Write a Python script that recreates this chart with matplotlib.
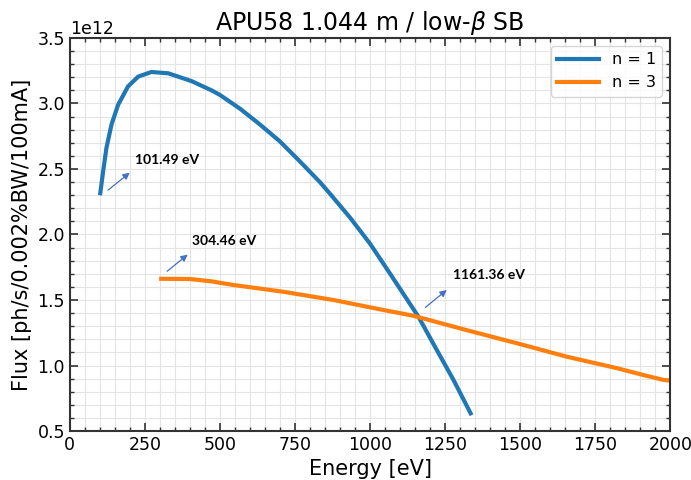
"""
APU58 flux curves, n = 1 and n = 3 harmonics
"""
import matplotlib.pyplot as plt
from matplotlib.ticker import MultipleLocator

# n = 1 harmonic (energy in eV, flux in units of 1e12)
energy_n1 = [101.5, 111, 122, 139, 161, 194, 228, 272, 328, 406, 472, 500, 567,
             633, 700, 767, 833, 867, 933, 1000, 1067, 1161, 1222, 1278, 1335]
flux_n1 = [2.315, 2.48, 2.66, 2.84, 2.99, 3.13, 3.205, 3.24, 3.23, 3.17, 3.10,
           3.065, 2.96, 2.84, 2.71, 2.556, 2.40, 2.31, 2.13, 1.93, 1.70, 1.373,
           1.12, 0.89, 0.635]

# n = 3 harmonic
energy_n3 = [304.5, 400, 470, 544, 711, 878, 1044, 1144, 1322, 1489, 1656, 1822,
             1911, 1978, 2000]
flux_n3 = [1.662, 1.66, 1.643, 1.615, 1.563, 1.50, 1.424, 1.38, 1.27, 1.17, 1.067,
           0.98, 0.927, 0.89, 0.885]

# annotations: label, arrow tail, arrow head, text position (energy, flux/1e12)
notes = [
    ("101.49 eV", (120, 2.325), (207, 2.485), (217, 2.57)),
    ("304.46 eV", (317, 1.706), (400, 1.86), (407, 1.95)),
    ("1161.36 eV", (1177, 1.43), (1263, 1.59), (1277, 1.69)),
]

fig = plt.figure(figsize=(6.91, 4.8), dpi=100)
ax = fig.add_axes([0.101, 0.102, 0.869, 0.819])

scale = 1e12
ax.plot(energy_n1, [f * scale for f in flux_n1], color="#1f77b4", lw=3,
        label="n = 1", solid_joinstyle="round")
ax.plot(energy_n3, [f * scale for f in flux_n3], color="#ff7f0e", lw=3,
        label="n = 3", solid_joinstyle="round")

for label, tail, head, txt in notes:
    ax.annotate("", xy=(head[0], head[1] * scale), xytext=(tail[0], tail[1] * scale),
                arrowprops=dict(arrowstyle="-|>", color="#4472c4", lw=0.9,
                                mutation_scale=10))
    ax.text(txt[0], txt[1] * scale, label, fontsize=10, fontweight="bold",
            family=["Lato", "DejaVu Sans"], va="center", ha="left")

ax.set_xlim(0, 2000)
ax.set_ylim(0.5e12, 3.5e12)
ax.xaxis.set_major_locator(MultipleLocator(250))
ax.xaxis.set_minor_locator(MultipleLocator(50))
ax.yaxis.set_major_locator(MultipleLocator(0.5e12))
ax.yaxis.set_minor_locator(MultipleLocator(0.1e12))

ax.grid(True, which="both", color="#e4e4e4", lw=0.8)
ax.set_axisbelow(True)
ax.tick_params(which="both", direction="in", top=True, right=True, labelsize=12.5,
               color="#333333")
ax.tick_params(which="major", length=6, width=1.2)
ax.tick_params(which="minor", length=3, width=1)
ax.yaxis.get_offset_text().set_fontsize(12.5)
for sp in ax.spines.values():
    sp.set_color("#333333")
    sp.set_linewidth(1.5)

ax.set_xlabel("Energy [eV]", fontsize=15)
ax.set_ylabel("Flux [ph/s/0.002%BW/100mA]", fontsize=15)
ax.set_title(r"APU58 1.044 m / low-$\beta$ SB", fontsize=17)
ax.legend(loc="upper right", fontsize=11.5, handlelength=2.6)

fig.savefig("out.png", dpi=100)
